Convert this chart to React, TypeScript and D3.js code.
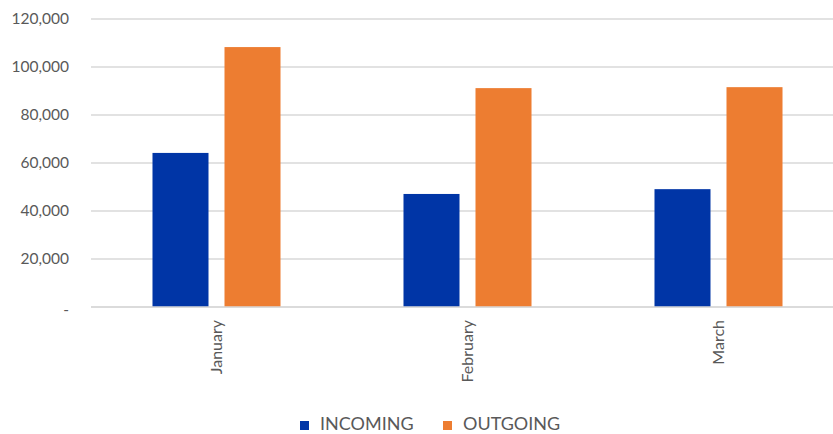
import React from "react";
import * as d3 from "d3";

const categories = ["January", "February", "March"];
const seriesNames = ["INCOMING", "OUTGOING"];
const incoming = [64200, 47100, 49100];
const outgoing = [108300, 91200, 91600];
const yTicks = [0, 20000, 40000, 60000, 80000, 100000, 120000];
const colors = ["#0035A6", "#ED7D31"];

const W = 833;
const H = 434;
const FONT = "Lato, 'Open Sans', sans-serif";

export default function App() {
  const x0 = d3.scaleBand<string>().domain(categories).range([91, 844]).padding(0);
  const x1 = d3
    .scaleBand<string>()
    .domain(seriesNames)
    .range([0, x0.bandwidth()])
    .paddingInner(0.2222)
    .paddingOuter(0.854);
  const y = d3.scaleLinear().domain([0, 120000]).range([307, 19]);
  const fmt = d3.format(",");
  const values = [incoming, outgoing];

  return (
    <svg
      width={W}
      height={H}
      style={{ position: "absolute", left: 0, top: 0, background: "#fff", overflow: "hidden" }}
      fontFamily={FONT}
    >
      <rect x={0} y={0} width={W} height={H} fill="#fff" />
      {yTicks.map((t) => (
        <g key={t}>
          <line x1={91} x2={W} y1={y(t)} y2={y(t)} stroke="#d9d9d9" strokeWidth={1.5} />
          <text
            x={69}
            y={y(t) + (t === 0 ? 3 : 0)}
            dy="0.35em"
            textAnchor="end"
            fontSize={15.5}
            fill="#595959"
          >
            {t === 0 ? "-" : fmt(t)}
          </text>
        </g>
      ))}
      {categories.map((c, i) => (
        <g key={c} transform={`translate(${x0(c)},0)`}>
          {seriesNames.map((s, j) => (
            <rect
              key={s}
              x={x1(s)}
              y={y(values[j][i])}
              width={x1.bandwidth()}
              height={y(0) - y(values[j][i])}
              fill={colors[j]}
            />
          ))}
          <text
            transform={`translate(${x0.bandwidth() / 2},320) rotate(-90)`}
            textAnchor="end"
            dy="0.35em"
            fontSize={16}
            fill="#595959"
          >
            {c}
          </text>
        </g>
      ))}
      <line x1={91} x2={W} y1={y(0)} y2={y(0)} stroke="#d9d9d9" strokeWidth={1.5} />
      {seriesNames.map((s, j) => {
        const lx = j === 0 ? 300 : 443;
        return (
          <g key={s}>
            <rect x={lx} y={421} width={9} height={9} fill={colors[j]} />
            <text x={lx + 20} y={430} fontSize={18} fill="#595959">
              {s}
            </text>
          </g>
        );
      })}
    </svg>
  );
}
